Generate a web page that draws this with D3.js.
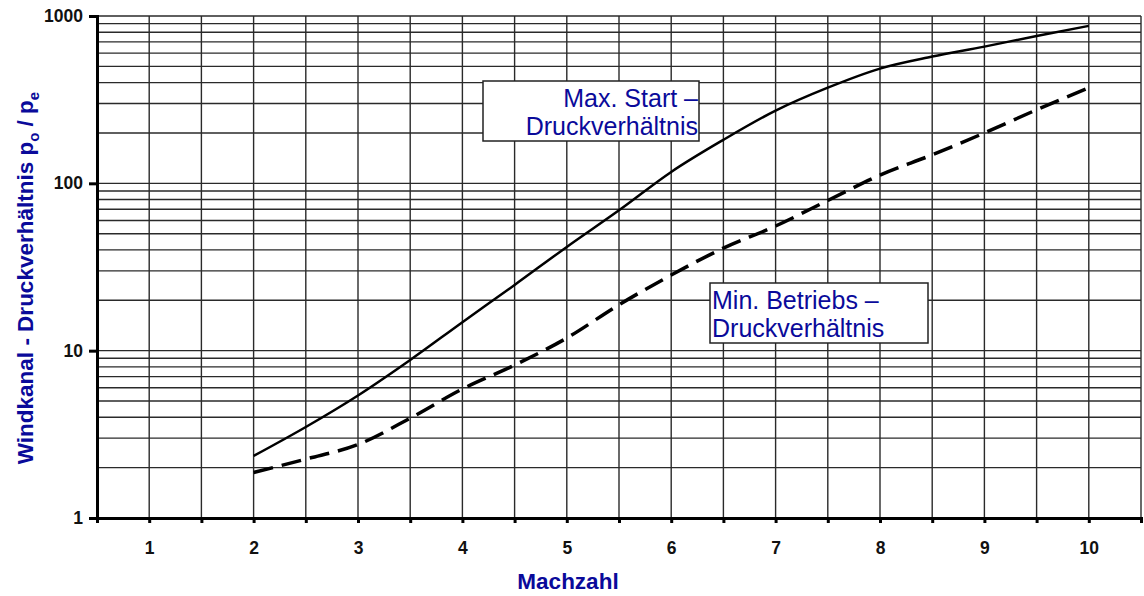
<!DOCTYPE html>
<html>
<head>
<meta charset="utf-8">
<script src="https://cdn.jsdelivr.net/npm/d3@7"></script>
<style>
  body { margin: 0; background: #fff; }
  text { font-family: "Liberation Sans", Arial, sans-serif; }
</style>
</head>
<body>
<svg id="chart" width="1144" height="596"></svg>
<script>
// Machzahl values and the two pressure ratio curves
const mach = [2, 2.5, 3, 3.5, 4, 4.5, 5, 5.5, 6, 6.5, 7, 7.5, 8, 8.5, 9, 9.5, 10];
const maxStart = [2.35, 3.5, 5.4, 8.8, 14.8, 24.7, 41.7, 69, 117, 182, 272, 373, 485, 572, 656, 760, 873];
const minBetrieb = [1.87, 2.25, 2.75, 3.95, 5.9, 8.2, 11.9, 18.8, 28.3, 41, 55.6, 79, 112, 148, 200, 275, 372];
const xTicks = [1, 2, 3, 4, 5, 6, 7, 8, 9, 10];
const yTicks = [1, 10, 100, 1000];

const svg = d3.select('#chart');
const margin = {top: 16, left: 97, right: 3, bottom: 78};
const width = 1144 - margin.left - margin.right;
const height = 596 - margin.top - margin.bottom;
const blue = '#0a0a9a';

const x = d3.scaleLinear().domain([0.5, 10.5]).range([0, width]);
const y = d3.scaleLog().domain([1, 1000]).range([height, 0]);

const g = svg.append('g')
    .attr('transform', 'translate(' + margin.left + ',' + margin.top + ')');

// grid lines
let minor = [];
for (let e = 0; e < 3; e++) {
    for (let k = 1; k < 10; k++) minor.push(k * Math.pow(10, e));
}
minor.push(1000);
g.selectAll('.hgrid')
    .data(minor)
    .enter().append('line')
    .attr('x1', 0).attr('x2', width)
    .attr('y1', d => y(d)).attr('y2', d => y(d))
    .style('stroke', '#2a2a2a')
    .style('stroke-width', 1.4);

const halfSteps = d3.range(0.5, 10.51, 0.5);
g.selectAll('.vgrid')
    .data(halfSteps)
    .enter().append('line')
    .attr('y1', 0).attr('y2', height)
    .attr('x1', d => x(d)).attr('x2', d => x(d))
    .style('stroke', '#2a2a2a')
    .style('stroke-width', 1.4);

// axes
const xAxis = g.append('g')
    .attr('transform', 'translate(0,' + height + ')')
    .call(d3.axisBottom(x).tickValues(halfSteps).tickSize(5)
        .tickFormat(d => xTicks.includes(d) ? d : ''));
xAxis.select('.domain').style('stroke', '#000').style('stroke-width', 3);
xAxis.selectAll('.tick line').style('stroke', '#000').style('stroke-width', 3);
xAxis.selectAll('.tick text')
    .attr('dy', 0).attr('y', 36)
    .style('font-size', '17.5px').style('font-weight', 'bold').style('fill', '#111');

const yAxis = g.append('g')
    .call(d3.axisLeft(y).tickValues(yTicks).tickSize(8).tickFormat(d3.format('d')));
yAxis.select('.domain').style('stroke', '#000').style('stroke-width', 3);
yAxis.selectAll('.tick line').style('stroke', '#000').style('stroke-width', 3);
yAxis.selectAll('.tick text')
    .attr('x', -14)
    .style('font-size', '17.5px').style('font-weight', 'bold').style('fill', '#111');

// curves
const line = d3.line()
    .x(d => x(d[0]))
    .y(d => y(d[1]))
    .curve(d3.curveMonotoneX);

g.append('path')
    .datum(d3.zip(mach, maxStart))
    .attr('d', line)
    .style('fill', 'none')
    .style('stroke', '#000')
    .style('stroke-width', 2.5);

g.append('path')
    .datum(d3.zip(mach, minBetrieb))
    .attr('d', line)
    .style('fill', 'none')
    .style('stroke', '#000')
    .style('stroke-width', 3.5)
    .style('stroke-dasharray', '20,9');

// label boxes
function labelBox(bx, by, bw, bh, lines, anchor) {
    const lb = g.append('g').attr('transform', 'translate(' + bx + ',' + by + ')');
    lb.append('rect')
        .attr('width', bw).attr('height', bh)
        .style('fill', '#fff').style('stroke', '#222').style('stroke-width', 1.5);
    lb.selectAll('text')
        .data(lines)
        .enter().append('text')
        .attr('x', anchor === 'end' ? bw - 1 : 2)
        .attr('y', (d, i) => 26 + i * 28)
        .attr('text-anchor', anchor)
        .style('font-size', '25px')
        .style('fill', blue)
        .text(d => d);
}
labelBox(386, 65, 216, 60, ['Max. Start –', 'Druckverhältnis'], 'end');
labelBox(613, 267, 218, 60, ['Min. Betriebs –', 'Druckverhältnis'], 'start');

// axis titles
svg.append('text')
    .attr('x', 568).attr('y', 589)
    .attr('text-anchor', 'middle')
    .style('font-size', '22.5px').style('font-weight', 'bold')
    .style('fill', blue)
    .text('Machzahl');

const yt = svg.append('text')
    .attr('transform', 'translate(33,278) rotate(-90)')
    .attr('text-anchor', 'middle')
    .style('font-size', '22.5px').style('font-weight', 'bold')
    .style('fill', blue);
yt.append('tspan').text('Windkanal - Druckverhältnis p');
yt.append('tspan').attr('dy', 6).style('font-size', '15px').text('o');
yt.append('tspan').attr('dy', -6).text(' / p');
yt.append('tspan').attr('dy', 6).style('font-size', '15px').text('e');
</script>
</body>
</html>
